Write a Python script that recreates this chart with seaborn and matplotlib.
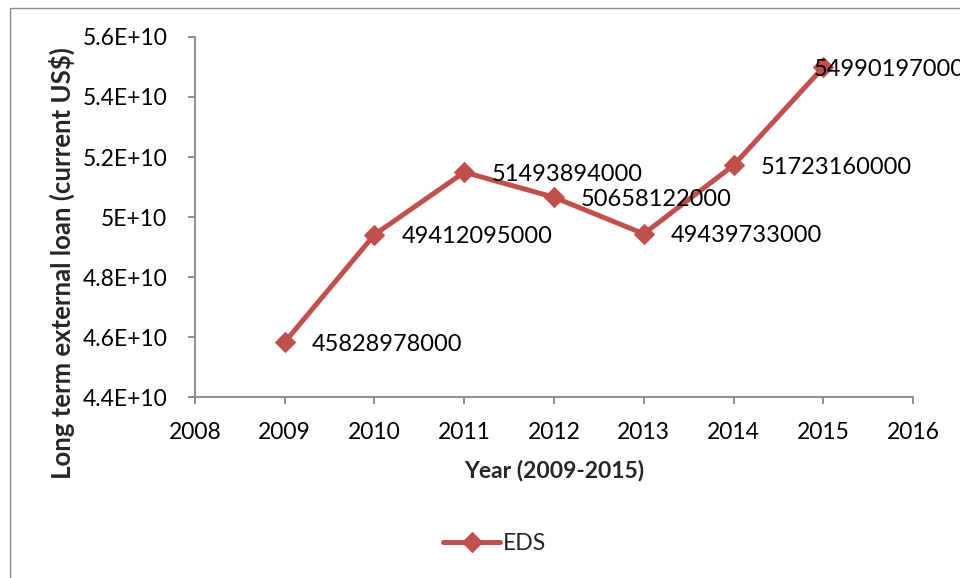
import matplotlib
matplotlib.use("Agg")
import matplotlib.pyplot as plt
from matplotlib.ticker import FuncFormatter, MultipleLocator
from matplotlib.patches import Rectangle
import seaborn as sns
import pandas as pd

# Long term external loan (EDS), current US$
years = [2009, 2010, 2011, 2012, 2013, 2014, 2015]
eds_values = [45828978000, 49412095000, 51493894000, 50658122000,
              49439733000, 51723160000, 54990197000]

# label offsets in points (dx, dy) for each data label
label_offsets = [(19.5, -1.5), (19.5, -1.5), (19.5, -1.5), (19.5, -1.5),
                 (19.5, -1.5), (19.5, -1.5), (-7, -1.5)]

sns.set_theme(style="white")
plt.rcParams["font.family"] = ["Lato", "DejaVu Sans"]

color = "#C0504D"
spine_color = "#868686"

W, H = 960, 578
fig = plt.figure(figsize=(W / 100, H / 100), dpi=100)
ax = fig.add_axes([0.2031, 0.3131, 0.748, 0.6229])

df = pd.DataFrame({"Year": years, "EDS": eds_values})
sns.lineplot(data=df, x="Year", y="EDS", ax=ax, color=color, linewidth=3.6,
             marker="D", markersize=10, markeredgecolor=color, label="EDS")

ax.set_xlim(2008, 2016)
ax.set_ylim(4.4e10, 5.6e10)
ax.xaxis.set_major_locator(MultipleLocator(1))
ax.yaxis.set_major_locator(MultipleLocator(0.2e10))


def excel_sci(v, pos):
    m = round(v / 1e10, 6)
    return f"{m:g}E+10"


ax.yaxis.set_major_formatter(FuncFormatter(excel_sci))

for side in ("top", "right"):
    ax.spines[side].set_visible(False)
for side in ("left", "bottom"):
    ax.spines[side].set_color(spine_color)
    ax.spines[side].set_linewidth(1.3)

ax.tick_params(axis="both", which="major", direction="out", length=5, width=1.3,
               color=spine_color, labelsize=16.5, labelcolor="black")
ax.tick_params(axis="x", bottom=True, pad=13)
ax.tick_params(axis="y", left=True, pad=15)

ax.set_xlabel("Year (2009-2015)", fontsize=16.5, fontweight="bold", labelpad=12)
ax.set_ylabel("Long term external loan (current US$)", fontsize=18.5,
              fontweight="bold")
ax.yaxis.label.set_verticalalignment("center")
bbox = ax.get_position()
ax.yaxis.set_label_coords((62 / W - bbox.x0) / bbox.width,
                          ((1 - 263 / H) - bbox.y0) / bbox.height)

for x, y, (dx, dy) in zip(years, eds_values, label_offsets):
    ax.annotate(f"{y}", xy=(x, y), xytext=(dx, dy), textcoords="offset points",
                ha="left", va="center", fontsize=17, color="black",
                annotation_clip=False)

leg = ax.legend(loc="center", frameon=False, fontsize=16.5,
                handlelength=2.5, handletextpad=0.1)
leg.set_bbox_to_anchor((0.515, 1 - 544 / H), transform=fig.transFigure)

# chart frame
fig.patches.append(Rectangle((10 / W, -0.05), 1.2, 1 - 8 / H + 0.05,
                             transform=fig.transFigure, fill=False,
                             edgecolor="#8c8c8c", linewidth=1.0))

fig.savefig("out.png", dpi=100)
